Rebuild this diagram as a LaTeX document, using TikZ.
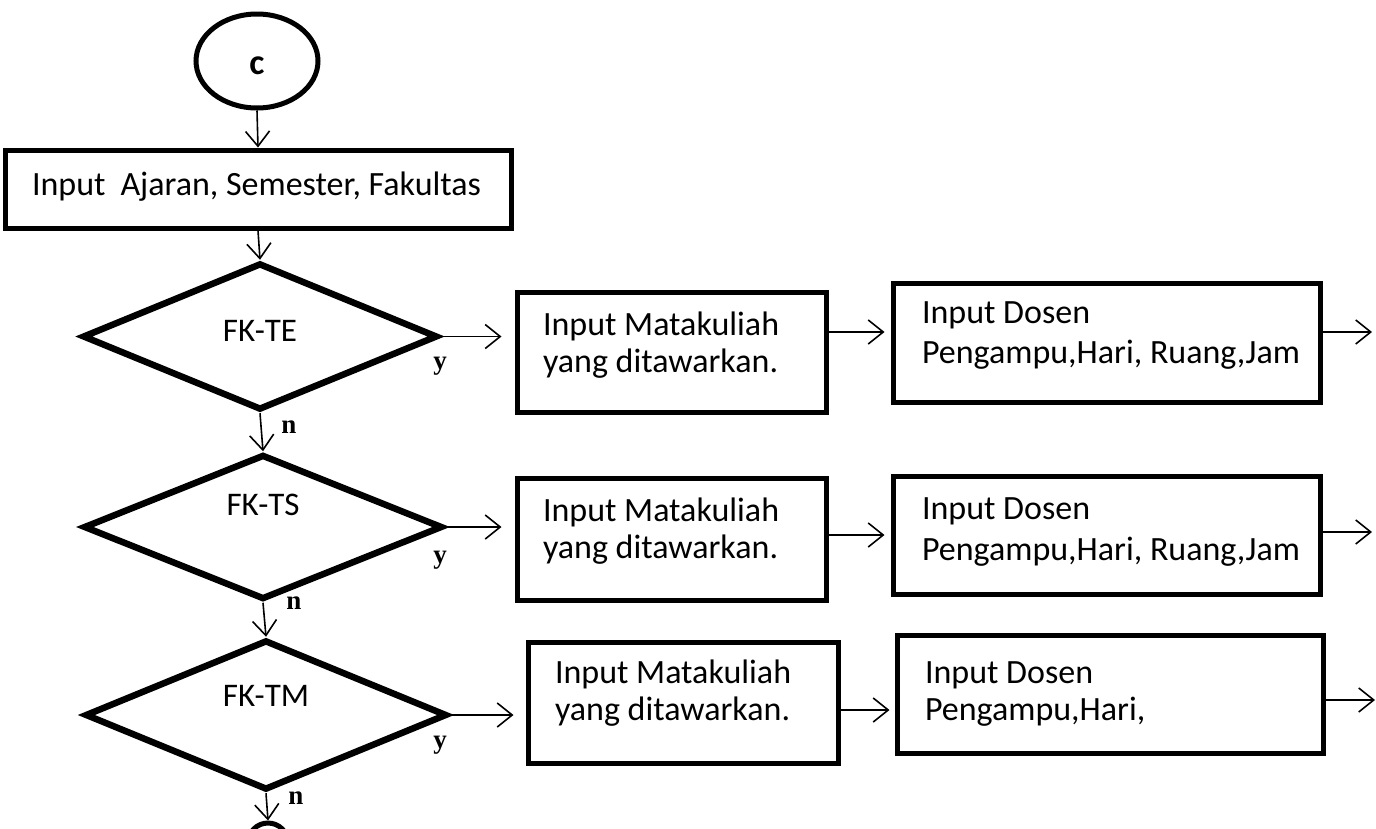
\documentclass[tikz,border=0pt]{standalone}
\usepackage{fontspec}
\setmainfont{Carlito}
\newfontfamily\yesnofont{Liberation Serif}
\usetikzlibrary{shapes.geometric,arrows.meta}

\begin{document}
\begin{tikzpicture}[x=1pt,y=-1pt,
  box/.style={draw, rectangle, line width=5pt, inner ysep=0pt, align=flush left,
    font=\fontsize{34}{37}\selectfont, text height=0pt},
  dia/.style={draw, diamond, line width=6.5pt, inner sep=0pt, aspect=2.4},
  fk/.style={font=\fontsize{33}{33}\selectfont, inner sep=0pt},
  yn/.style={font=\yesnofont\bfseries\fontsize{27}{27}\selectfont, inner sep=0pt},
  arr/.style={line width=1.6pt, -{Straight Barb[length=15pt,width=24pt,line width=1.6pt]}},
]
\useasboundingbox (0,0) rectangle (1376,828);
\clip (0,0) rectangle (1376,828);

% start connector and first input
\node[draw, ellipse, line width=5pt, minimum width=122pt, minimum height=94pt,
      inner sep=0pt, text height=26pt, text depth=0pt,
      font=\bfseries\fontsize{36}{36}\selectfont] (c0) at (257,61) {c};
\node[box, minimum width=506pt, minimum height=78pt, text width=452pt, inner xsep=27pt,
      text height=12pt, text depth=0pt] (r0) at (258,189) {Input\hspace{15pt}Ajaran, Semester, Fakultas};

% decisions
\node[dia, minimum width=355pt, minimum height=147pt] (d1) at (260,336.5) {};
\node[dia, minimum width=359pt, minimum height=145pt] (d2) at (263,527) {};
\node[dia, minimum width=362pt, minimum height=150pt] (d3) at (266,715) {};
\node[fk] (l1) at ([yshift=6pt]d1.center) {FK-TE};
\node[fk] (l2) at ([yshift=22pt]d2.center) {FK-TS};
\node[fk] (l3) at ([yshift=19pt]d3.center) {FK-TM};

% row boxes
\node[box, minimum width=309pt, minimum height=120pt, text width=257pt, inner xsep=26pt,
      text depth=34pt] (b11) at (671.5,352) {Input Matakuliah\\yang ditawarkan.};
\node[box, minimum width=427pt, minimum height=119pt, text width=369pt, inner xsep=29pt,
      font=\fontsize{34}{40}\selectfont, text depth=39pt] (b12) at (1106.5,342.5)
      {Input Dosen\\\mbox{Pengampu,Hari, Ruang,Jam}};
\node[box, minimum width=309pt, minimum height=122pt, text width=257pt, inner xsep=26pt,
      text depth=36pt] (b21) at (671.5,539) {Input Matakuliah\\yang ditawarkan.};
\node[box, minimum width=427pt, minimum height=118pt, text width=369pt, inner xsep=29pt,
      font=\fontsize{34}{41}\selectfont, text depth=32pt] (b22) at (1106.5,535)
      {Input Dosen\\\mbox{Pengampu,Hari, Ruang,Jam}};
\node[box, minimum width=310pt, minimum height=121pt, text width=256pt, inner xsep=27pt,
      text depth=39pt] (b31) at (683,702.5) {Input Matakuliah\\yang ditawarkan.};
\node[box, minimum width=426pt, minimum height=118pt, text width=370pt, inner xsep=28pt,
      text depth=22pt] (b32) at (1110,694) {Input Dosen\\Pengampu,Hari,};

% next connector (partly off the page)
\node[draw, circle, line width=5pt, minimum size=40pt, inner sep=0pt] (e0) at (268,843) {};

% free ends of the outgoing arrows
\coordinate (o1) at (1372,332);
\coordinate (o2) at (1372,532);
\coordinate (o3) at (1375,700);

% vertical flow
\draw[arr] (c0.south) -- (r0.north);
\draw[arr] (r0.south) -- (d1.north);
\draw[arr] (d1.south) -- (d2.north);
\draw[arr] (d2.south) -- (d3.north);
\draw[arr] (d3.south) -- (e0.north);

% yes branches
\draw[arr, shorten >=13pt] (d1.east) -- (d1.east -| b11.west);
\draw[arr, shorten >=13pt] (d2.east) -- (d2.east -| b21.west);
\draw[arr, shorten >=12pt] (d3.east) -- (d3.east -| b31.west);
\draw[arr, shorten >=6pt] (b11.east |- 0,332) -- (b12.west |- 0,332);
\draw[arr, shorten >=6pt] (b21.east |- 0,535) -- (b22.west |- 0,535);
\draw[arr, shorten >=5pt] (b31.east |- 0,710) -- (b32.west |- 0,710);
\draw[arr] (b12.east |- o1) -- (o1);
\draw[arr] (b22.east |- o2) -- (o2);
\draw[arr] (b32.east |- o3) -- (o3);

% branch labels
\node[yn] (y1) at (440,366) {y};
\node[yn] (y2) at (440,560) {y};
\node[yn] (y3) at (440,745) {y};
\node[yn] (n1) at (289,427) {n};
\node[yn] (n2) at (294,603) {n};
\node[yn] (n3) at (296,798) {n};
\end{tikzpicture}
\end{document}
